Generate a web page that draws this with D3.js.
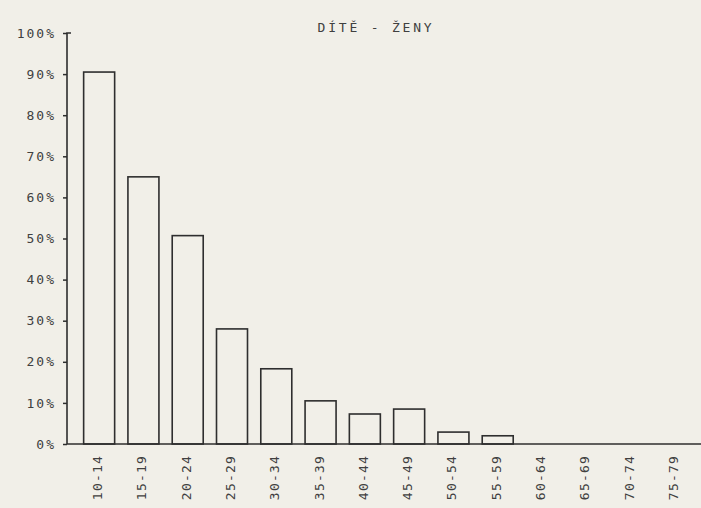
<!DOCTYPE html>
<html>
<head>
<meta charset="utf-8">
<script src="https://cdn.jsdelivr.net/npm/d3@7"></script>
<style>
  body { margin: 0; background: #f1efe8; }
  text { font-family: "DejaVu Sans Mono", monospace; fill: #404040; }
</style>
</head>
<body>
<script>
var title = "DÍTĚ - ŽENY"
var groups = ["10-14", "15-19", "20-24", "25-29", "30-34", "35-39", "40-44",
              "45-49", "50-54", "55-59", "60-64", "65-69", "70-74", "75-79"]
var shares = [90.5, 65, 50.7, 28, 18.3, 10.5, 7.3, 8.5, 2.9, 2, 0, 0, 0, 0]
var yTicks = [0, 10, 20, 30, 40, 50, 60, 70, 80, 90, 100]

var width = 701, height = 508
var axisX = 67

var svg = d3.select("body").append("svg")
    .attr("width", width)
    .attr("height", height)

var x = d3.scaleBand()
    .domain(groups)
    .range([77, 697])
    .paddingInner(0.3)
    .paddingOuter(0.15)

var y = d3.scaleLinear().domain([0, 100]).range([444, 33])

// title
svg.append("text")
    .attr("x", 376)
    .attr("y", 32)
    .attr("text-anchor", "middle")
    .style("font-size", "13px")
    .style("letter-spacing", "2.8px")
    .text(title)

// bars, outline only
svg.selectAll(".bar")
  .data(shares)
  .enter().append("rect")
    .attr("class", "bar")
    .attr("x", function(d, i) { return x(groups[i]) })
    .attr("y", function(d) { return y(d) })
    .attr("width", x.bandwidth())
    .attr("height", function(d) { return y(0) - y(d) })
    .attr("fill", "none")
    .attr("stroke", "#2e2e2e")
    .attr("stroke-width", 1.6)

// y axis
var yAxis = svg.append("g")
    .attr("transform", "translate(" + axisX + ",0)")
    .call(d3.axisLeft(y).tickValues(yTicks).tickSize(4).tickFormat(function(d) { return d + "%" }))
yAxis.select(".domain").remove()
yAxis.selectAll("line").attr("stroke", "#2e2e2e").attr("stroke-width", 1.5)
yAxis.selectAll("text")
    .attr("x", -11)
    .style("font-size", "13px")
    .style("letter-spacing", "2px")
    .style("fill", "#404040")

svg.append("path")
    .attr("d", "M" + (axisX + 4) + "," + y(100) + "H" + axisX + "V" + y(0))
    .attr("fill", "none")
    .attr("stroke", "#2e2e2e")
    .attr("stroke-width", 1.6)

// baseline
svg.append("line")
    .attr("x1", axisX)
    .attr("x2", width)
    .attr("y1", y(0))
    .attr("y2", y(0))
    .attr("stroke", "#2e2e2e")
    .attr("stroke-width", 1.6)

// x labels, rotated
svg.selectAll(".xlab")
  .data(groups)
  .enter().append("text")
    .attr("class", "xlab")
    .attr("transform", function(d) {
      return "translate(" + (x(d) + x.bandwidth() / 2 + 3) + ",455) rotate(-90)"
    })
    .attr("text-anchor", "end")
    .style("font-size", "13px")
    .style("letter-spacing", "1.2px")
    .text(function(d) { return d })
</script>
</body>
</html>
